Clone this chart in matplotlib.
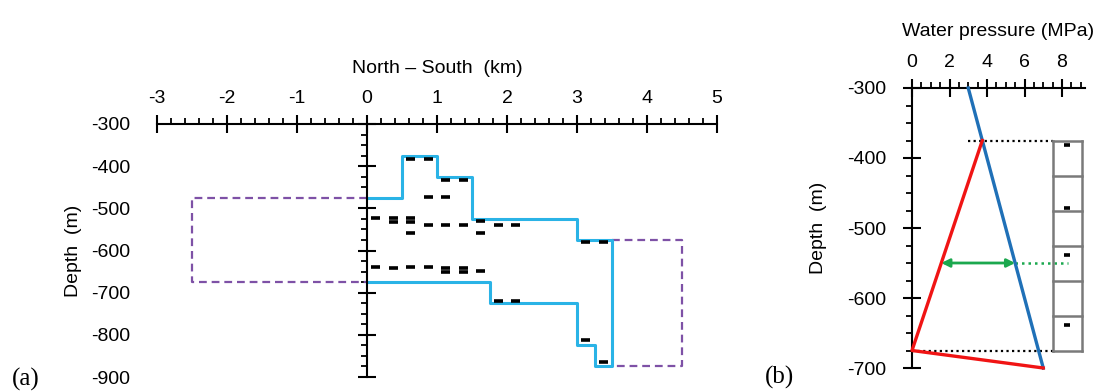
import numpy as np
import matplotlib.pyplot as plt
from matplotlib.ticker import MultipleLocator

plt.rcParams['font.family'] = ['Liberation Sans', 'DejaVu Sans']
plt.rcParams['axes.unicode_minus'] = False

# ---------------- data : panel (a) ----------------
ns_ticks = [-3, -2, -1, 0, 1, 2, 3, 4, 5]
depth_ticks_a = [-300, -400, -500, -600, -700, -800, -900]

# outline of the fractured zone (cyan step line)
zone_x = [0, 0.5, 0.5, 1.0, 1.0, 1.5, 1.5, 3.0, 3.0, 3.5, 3.5, 3.25, 3.25,
          3.0, 3.0, 1.75, 1.75, 0]
zone_y = [-475, -475, -375, -375, -425, -425, -525, -525, -575, -575, -875,
          -875, -825, -825, -725, -725, -675, -675]

# dashed purple boxes
box_n_x = [0, -2.5, -2.5, 0]
box_n_y = [-475, -475, -675, -675]
box_s_x = [3.5, 4.5, 4.5, 3.5]
box_s_y = [-575, -575, -875, -875]

# fracture marks (centre x in km, depth in m)
frac_x = [0.625, 0.875,
          1.125, 1.375,
          0.875, 1.125,
          0.125, 0.375, 0.625,
          0.375, 0.625,
          0.875, 1.125, 1.375, 1.875, 2.125,
          1.625,
          0.625, 1.625,
          3.125, 3.375,
          0.125, 0.625, 0.875, 0.375,
          1.125, 1.375, 1.125, 1.375,
          1.625,
          1.875, 2.125,
          3.125,
          3.375]
frac_y = [-383, -383,
          -432, -432,
          -472, -472,
          -523, -523, -523,
          -533, -533,
          -540, -540, -540, -540, -540,
          -529,
          -559, -559,
          -581, -581,
          -640, -640, -640, -642,
          -641, -641, -651, -651,
          -649,
          -720, -720,
          -813,
          -865]
frac_len = 0.125

# ---------------- data : panel (b) ----------------
pressure_ticks = [0, 2, 4, 6, 8]
depth_ticks_b = [-300, -400, -500, -600, -700]

hydro_p = [3.0, 7.0]
hydro_d = [-300, -700]

meas_p = [3.75, 0.0, 7.0]
meas_d = [-375, -675, -700]

log_edges = [-375, -425, -475, -525, -575, -625, -675]
log_frac_d = [-382, -472, -539, -639]
arrow_depth = -550

cyan = '#2AB3E6'
purple = '#7E51A6'
blue = '#1F70B7'
red = '#F01414'
green = '#1BA84E'
grey = '#7A7A7A'

fs = 14

fig = plt.figure(figsize=(11.02, 3.91), dpi=100)

# ================= panel (a) =================
ax = fig.add_axes([157 / 1102, 1 - 377 / 391, 560 / 1102, 253 / 391])
ax.set_xlim(-3, 5)
ax.set_ylim(-900, -300)

ax.plot(box_n_x, box_n_y, color=purple, lw=1.6, ls=(0, (3.5, 2.2)), clip_on=False)
ax.plot(box_s_x, box_s_y, color=purple, lw=1.6, ls=(0, (3.5, 2.2)), clip_on=False)
ax.plot(zone_x, zone_y, color=cyan, lw=2.2, clip_on=False)
fx = np.array(frac_x)
ax.hlines(frac_y, fx - frac_len / 2, fx + frac_len / 2, color='black', lw=2.6)

for s in ['bottom', 'right']:
    ax.spines[s].set_visible(False)
ax.spines['left'].set_position(('data', 0))
ax.spines['top'].set_linewidth(1.5)
ax.spines['left'].set_linewidth(1.5)

ax.xaxis.tick_top()
ax.set_xticks(ns_ticks)
ax.xaxis.set_minor_locator(MultipleLocator(0.2))
ax.tick_params(axis='x', which='major', direction='inout', length=13, width=1.5,
               labelsize=fs, pad=6)
ax.tick_params(axis='x', which='minor', direction='out', length=4.5, width=1.3)
ax.set_xlabel('North \u2013 South  (km)', fontsize=fs, labelpad=12)
ax.xaxis.set_label_position('top')

ax.set_yticks(depth_ticks_a)
ax.yaxis.set_minor_locator(MultipleLocator(25))
ax.tick_params(axis='y', which='major', direction='inout', length=13, width=1.5,
               labelsize=fs, pad=(234 - 6.5) * 0.72)
ax.tick_params(axis='y', which='minor', direction='out', length=4.5, width=1.3)
ax.set_ylabel('Depth  (m)', fontsize=fs)
ax.yaxis.set_label_coords(-0.134, 0.5)

# ================= panel (b) =================
bx = fig.add_axes([912 / 1102, 1 - 368 / 391, 172.5 / 1102, 280 / 391])
bx.set_xlim(0, 9.2)
bx.set_ylim(-700, -300)

# dotted guide lines at top and bottom of fractured zone
bx.plot([hydro_p[0], 7.5], [log_edges[0]] * 2, color='black', lw=1.6,
        ls=(0, (1, 1.5)))
bx.plot([0, 7.5], [log_edges[-1]] * 2, color='black', lw=1.6, ls=(0, (1, 1.5)))

bx.plot(hydro_p, hydro_d, color=blue, lw=2.4, clip_on=False, zorder=3)
bx.plot(meas_p, meas_d, color=red, lw=2.4, clip_on=False, zorder=3,
        solid_joinstyle='round')

# pressure difference arrow
p_red = np.interp(arrow_depth, meas_d[1::-1], meas_p[1::-1])
p_blue = np.interp(arrow_depth, hydro_d[::-1], hydro_p[::-1])
bx.annotate('', xy=(p_red, arrow_depth), xytext=(p_blue, arrow_depth),
            arrowprops=dict(arrowstyle='<|-|>', color=green, lw=2,
                            mutation_scale=12, shrinkA=0, shrinkB=0), zorder=4)
bx.plot([p_blue, 8.3], [arrow_depth] * 2, color=green, lw=1.8, ls=(0, (1, 1.6)))

# borehole log column
for d in log_edges:
    bx.plot([7.5, 9.05], [d, d], color=grey, lw=1.8, clip_on=False)
bx.plot([7.5, 7.5], [log_edges[0], log_edges[-1]], color=grey, lw=1.8)
bx.plot([9.05, 9.05], [log_edges[0], log_edges[-1]], color=grey, lw=1.8)
bx.hlines(log_frac_d, 8.1, 8.45, color='black', lw=2.6)

for s in ['bottom', 'right']:
    bx.spines[s].set_visible(False)
bx.spines['top'].set_linewidth(1.5)
bx.spines['left'].set_linewidth(1.5)

bx.xaxis.tick_top()
bx.set_xticks(pressure_ticks)
bx.xaxis.set_minor_locator(MultipleLocator(0.5))
bx.tick_params(axis='x', which='major', direction='inout', length=13, width=1.5,
               labelsize=fs, pad=6)
bx.tick_params(axis='x', which='minor', direction='out', length=4.5, width=1.3)
bx.set_xlabel('Water pressure (MPa)', fontsize=fs, labelpad=13)
bx.xaxis.set_label_position('top')

bx.set_yticks(depth_ticks_b)
bx.yaxis.set_minor_locator(MultipleLocator(25))
bx.tick_params(axis='y', which='major', direction='inout', length=13, width=1.5,
               labelsize=fs, pad=12)
bx.tick_params(axis='y', which='minor', direction='out', length=4.5, width=1.3)
bx.set_ylabel('Depth  (m)', fontsize=fs)
bx.yaxis.set_label_coords(-0.49, 0.5)

fig.text(12 / 1102, 1 - 379 / 391, '(a)', fontsize=18, va='center', ha='left',
         family=['Liberation Serif', 'DejaVu Serif'])
fig.text(765 / 1102, 1 - 377 / 391, '(b)', fontsize=18, va='center', ha='left',
         family=['Liberation Serif', 'DejaVu Serif'])

fig.savefig('out.png', dpi=100)
